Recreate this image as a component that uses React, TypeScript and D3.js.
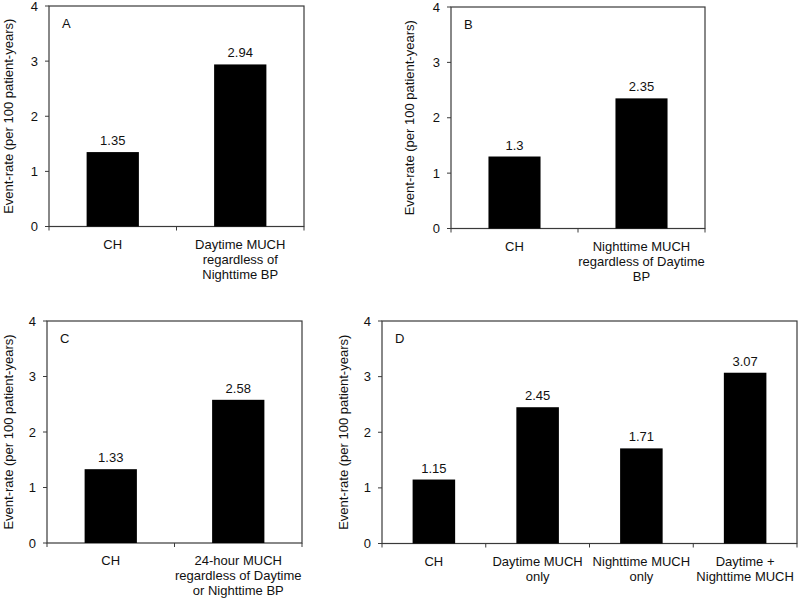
import React from "react";
import * as d3 from "d3";

const catsA = ["CH", "Daytime MUCH\nregardless of\nNighttime BP"];
const valsA = [1.35, 2.94];
const catsB = ["CH", "Nighttime MUCH\nregardless of Daytime\nBP"];
const valsB = [1.3, 2.35];
const catsC = ["CH", "24-hour MUCH\nregardless of Daytime\nor Nighttime BP"];
const valsC = [1.33, 2.58];
const catsD = ["CH", "Daytime MUCH\nonly", "Nighttime MUCH\nonly", "Daytime +\nNighttime MUCH"];
const valsD = [1.15, 2.45, 1.71, 3.07];
const yTicks = [0, 1, 2, 3, 4];
const yTitle = "Event-rate (per 100 patient-years)";

const FONT = "'Liberation Sans', Arial, sans-serif";
const LINE = "#3a3a3a";
const TEXT = "#111";

type PanelProps = {
  letter: string;
  cats: string[];
  vals: number[];
  left: number;
  top: number;
  right: number;
  bottom: number;
  titleX: number;
};

function Panel({ letter, cats, vals, left, top, right, bottom, titleX }: PanelProps) {
  const x = d3.scaleBand<string>().domain(cats).range([left, right]).padding(0);
  const y = d3.scaleLinear().domain([0, 4]).range([bottom, top]);
  const bw = x.bandwidth();
  const barW = bw * 0.41;
  const bounds = [left, ...cats.map((c) => (x(c) as number) + bw)];
  return (
    <g fontFamily={FONT} fontSize={13} fill={TEXT}>
      <rect x={left} y={top} width={right - left} height={bottom - top} fill="none" stroke={LINE} strokeWidth={1.2} />
      {yTicks.map((t) => (
        <g key={t}>
          <line x1={left - 4} x2={left} y1={y(t)} y2={y(t)} stroke={LINE} strokeWidth={1} />
          <text x={left - 11} y={y(t)} dy="0.35em" textAnchor="end">{t}</text>
        </g>
      ))}
      {bounds.map((b, i) => (
        <line key={i} x1={b} x2={b} y1={bottom} y2={bottom + 4} stroke={LINE} strokeWidth={1} />
      ))}
      {cats.map((c, i) => {
        const cx = (x(c) as number) + bw / 2;
        return (
          <g key={c}>
            <rect x={cx - barW / 2} y={y(vals[i])} width={barW} height={bottom - y(vals[i])} fill="#000" />
            <text x={cx} y={y(vals[i]) - 7} textAnchor="middle">{vals[i]}</text>
            {c.split("\n").map((ln, k) => (
              <text key={k} x={cx} y={bottom + 22 + k * 15} textAnchor="middle">{ln}</text>
            ))}
          </g>
        );
      })}
      <text x={left + 13} y={top + 22}>{letter}</text>
      <text
        transform={`translate(${titleX},${(top + bottom) / 2}) rotate(-90)`}
        textAnchor="middle"
        dy="0.35em"
      >
        {yTitle}
      </text>
    </g>
  );
}

export default function App() {
  return (
    <svg width={800} height={598} style={{ position: "absolute", left: 0, top: 0, background: "#fff" }}>
      <rect width={800} height={598} fill="#fff" />
      <Panel letter="A" cats={catsA} vals={valsA} left={49} top={6} right={304} bottom={226.5} titleX={8.5} />
      <Panel letter="B" cats={catsB} vals={valsB} left={451} top={7} right={705} bottom={228.5} titleX={409} />
      <Panel letter="C" cats={catsC} vals={valsC} left={47} top={321} right={302} bottom={543} titleX={8} />
      <Panel letter="D" cats={catsD} vals={valsD} left={382} top={321} right={797} bottom={543.5} titleX={343} />
    </svg>
  );
}
